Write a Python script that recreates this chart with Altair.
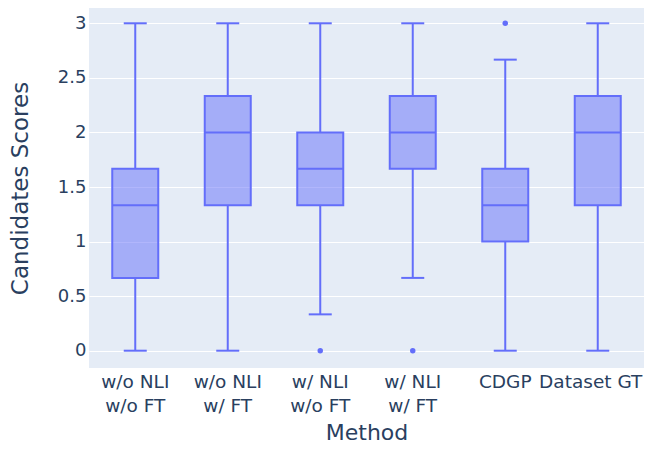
import altair as alt
import pandas as pd

# ---- data ----
methods = ["w/o NLI|w/o FT", "w/o NLI|w/ FT", "w/ NLI|w/o FT", "w/ NLI|w/ FT", "CDGP", "Dataset GT"]
lower = [0, 0, 0.333, 0.667, 0, 0]
q1 = [0.667, 1.333, 1.333, 1.667, 1.0, 1.333]
median = [1.333, 2.0, 1.667, 2.0, 1.333, 2.0]
q3 = [1.667, 2.333, 2.0, 2.333, 1.667, 2.333]
upper = [3, 3, 3, 3, 2.667, 3]

outlier_methods = ["w/ NLI|w/o FT", "w/ NLI|w/ FT", "CDGP"]
outlier_values = [0, 0, 3]

y_ticks = [0, 0.5, 1, 1.5, 2, 2.5, 3]

box = pd.DataFrame({"method": methods, "lower": lower, "q1": q1,
                    "median": median, "q3": q3, "upper": upper})
outl = pd.DataFrame({"method": outlier_methods, "value": outlier_values})

COLOR = "#636efa"
FONT = "DejaVu Sans"
TXT = "#2a3f5f"

xscale = alt.Scale(type="band", domain=methods, paddingInner=0, paddingOuter=0)
yscale = alt.Scale(domain=[-0.1585, 3.1585], nice=False, zero=False)

xaxis = alt.Axis(title="Method", labelAngle=0, labelExpr="split(datum.label, '|')",
                 labelFontSize=18.5, labelLineHeight=24.5, labelPadding=4, labelBaseline="top",
                 labelOffset={"condition": {"test": "datum.value == 'Dataset GT'", "value": -7},
                              "value": 0},
                 labelBound=False,
                 ticks=False, domain=False, grid=False,
                 titleFontSize=22, titleY=64, titleBaseline="middle")
yaxis = alt.Axis(title="Candidates Scores", values=y_ticks, format="~g",
                 labelFontSize=18, labelPadding=3, ticks=False, domain=False,
                 grid=True, gridColor="white", gridWidth=1,
                 titleFontSize=23, titleX=-69, titleY=182, titleAlign="center",
                 titleBaseline="middle")

X = alt.X("method:N", scale=xscale, axis=xaxis, sort=methods)

base = alt.Chart(box)

whisk_lo = base.mark_rule(color=COLOR, strokeWidth=2).encode(
    x=X, y=alt.Y("lower:Q", scale=yscale, axis=yaxis), y2="q1:Q")
whisk_hi = base.mark_rule(color=COLOR, strokeWidth=2).encode(
    x=X, y=alt.Y("q3:Q", scale=yscale, axis=yaxis), y2="upper:Q")
cap_lo = base.mark_tick(color=COLOR, size=23, thickness=2, opacity=1).encode(
    x=X, y=alt.Y("lower:Q", scale=yscale, axis=yaxis))
cap_hi = base.mark_tick(color=COLOR, size=23, thickness=2, opacity=1).encode(
    x=X, y=alt.Y("upper:Q", scale=yscale, axis=yaxis))
boxes = base.mark_bar(fill=COLOR, fillOpacity=0.5, stroke=COLOR, strokeWidth=2,
                      size=46).encode(
    x=X, y=alt.Y("q1:Q", scale=yscale, axis=yaxis), y2="q3:Q")
med = base.mark_tick(color=COLOR, size=46, thickness=2, opacity=1).encode(
    x=X, y=alt.Y("median:Q", scale=yscale, axis=yaxis))
pts = alt.Chart(outl).mark_circle(color=COLOR, size=30, opacity=1).encode(
    x=X, y=alt.Y("value:Q", scale=yscale, axis=yaxis))

chart = alt.layer(whisk_lo, whisk_hi, cap_lo, cap_hi, boxes, med, pts).properties(
    width=555, height=362,
    autosize=alt.AutoSizeParams(type="none"),
    padding={"left": 81, "top": -2, "right": 0, "bottom": 75},
    background="white",
).configure_view(fill="#E5ECF6", stroke=None).configure_axis(
    labelFont=FONT, titleFont=FONT, labelColor=TXT, titleColor=TXT,
    titleFontWeight="normal",
)

chart.save("out.html", embed_options={"renderer": "svg", "actions": False})
